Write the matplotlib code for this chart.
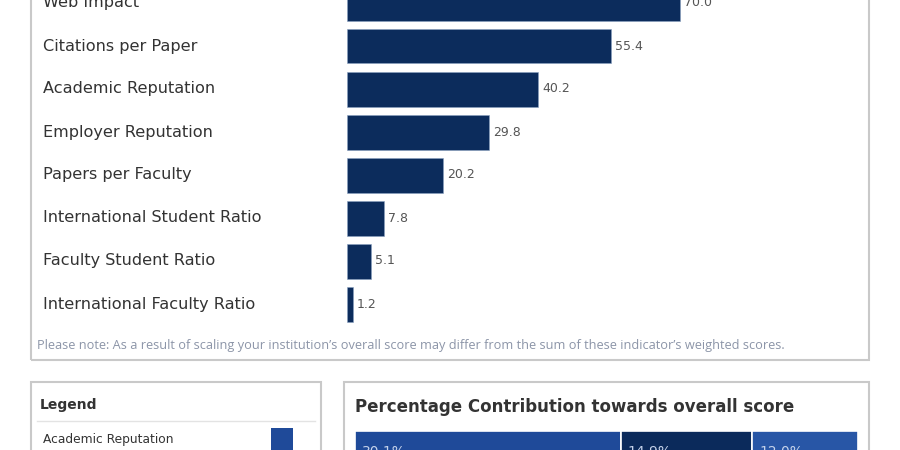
"""
Indicator scores dashboard - weighted scores bar chart, legend and contribution strip
"""

import matplotlib
matplotlib.use("Agg")
import matplotlib.pyplot as plt
import matplotlib.transforms as mtransforms
from matplotlib.patches import Rectangle

# ---- data ----
indicators = [
    "Web Impact",
    "Citations per Paper",
    "Academic Reputation",
    "Employer Reputation",
    "Papers per Faculty",
    "International Student Ratio",
    "Faculty Student Ratio",
    "International Faculty Ratio",
]
scores = [70.0, 55.4, 40.2, 29.8, 20.2, 7.8, 5.1, 1.2]

legend_items = ["Academic Reputation"]
contrib_pct = [30.1, 14.9, 12.0]
contrib_colors = ["#1f4a99", "#0b2a5b", "#2856a6"]

note = ("Please note: As a result of scaling your institution\u2019s overall score "
        "may differ from the sum of these indicator\u2019s weighted scores.")

BAR_COLOR = "#0c2c5c"
BORDER = "#c9c9c9"
W, H = 900, 450


def box(x0, y0, x1, y1):
    """pixel box (top-left origin) -> figure fraction rect"""
    return [x0 / W, 1 - y1 / H, (x1 - x0) / W, (y1 - y0) / H]


fig = plt.figure(figsize=(9, 4.5), dpi=100)
fig.patch.set_facecolor("white")


def panel(x0, y0, x1, y1):
    r = Rectangle((x0 / W, 1 - y1 / H), (x1 - x0) / W, (y1 - y0) / H,
                  transform=fig.transFigure, fill=False, edgecolor=BORDER,
                  linewidth=1.5, zorder=0)
    fig.add_artist(r)


# ---- top panel: weighted scores ----
panel(31, -20, 869, 360)

row_h = 43.0
n = len(indicators)
ax = fig.add_axes(box(347, 3 - row_h / 2, 347 + 100 * 4.757, 3 + row_h * (n - 0.5)))
ypos = list(range(n))
ax.barh(ypos, scores, height=35 / row_h, color=BAR_COLOR, edgecolor="#8aa0c0",
        linewidth=0.4)
ax.set_xlim(0, 100)
ax.set_ylim(n - 0.5, -0.5)
ax.axis("off")

for y, v in zip(ypos, scores):
    ax.annotate(f"{v:.1f}", (v, y), xytext=(3, 0), textcoords="offset points",
                va="center", ha="left", fontsize=9, color="#555555")

lab_tr = mtransforms.blended_transform_factory(fig.transFigure, ax.transData)
for y, name in zip(ypos, indicators):
    ax.text(43 / W, y, name, transform=lab_tr, va="center", ha="left",
            fontsize=11.6, color="#333333", clip_on=False)

fig.text(37 / W, 1 - 345 / H, note, fontsize=9.2, color="#8c95a8",
         va="center", ha="left", family="Open Sans")

# ---- legend panel ----
panel(31, 382, 321, 470)
fig.text(40 / W, 1 - 405 / H, "Legend", fontsize=10, fontweight="bold",
         color="#333333", va="center")
fig.add_artist(plt.Line2D([37 / W, 315 / W], [1 - 421 / H, 1 - 421 / H],
                          transform=fig.transFigure, color="#e3e3e3", lw=1))
for i, item in enumerate(legend_items):
    fig.text(43 / W, 1 - (439 + 30 * i) / H, item, fontsize=8.8,
             color="#333333", va="center")
    fig.add_artist(Rectangle((271 / W, 1 - (455 + 30 * i) / H), 22 / W, 27 / H,
                             transform=fig.transFigure,
                             facecolor=contrib_colors[0], edgecolor="none"))

# ---- contribution panel ----
panel(344, 382, 869, 470)
fig.text(355 / W, 1 - 407 / H, "Percentage Contribution towards overall score",
         fontsize=12, fontweight="bold", color="#333333", va="center")

cax = fig.add_axes(box(355, 431, 858, 470))
left = 0.0
for pct, col in zip(contrib_pct, contrib_colors):
    cax.barh(0, pct, left=left, height=1.0, color=col, edgecolor="white",
             linewidth=1.2)
    cax.text(left + 0.8, 0.05, f"{pct:.1f}%", color="#c5d2ea", fontsize=10,
             va="center", ha="left")
    left += pct
cax.set_xlim(0, sum(contrib_pct))
cax.set_ylim(-0.5, 0.5)
cax.invert_yaxis()
cax.axis("off")

fig.savefig("out.png", dpi=100, facecolor="white")
